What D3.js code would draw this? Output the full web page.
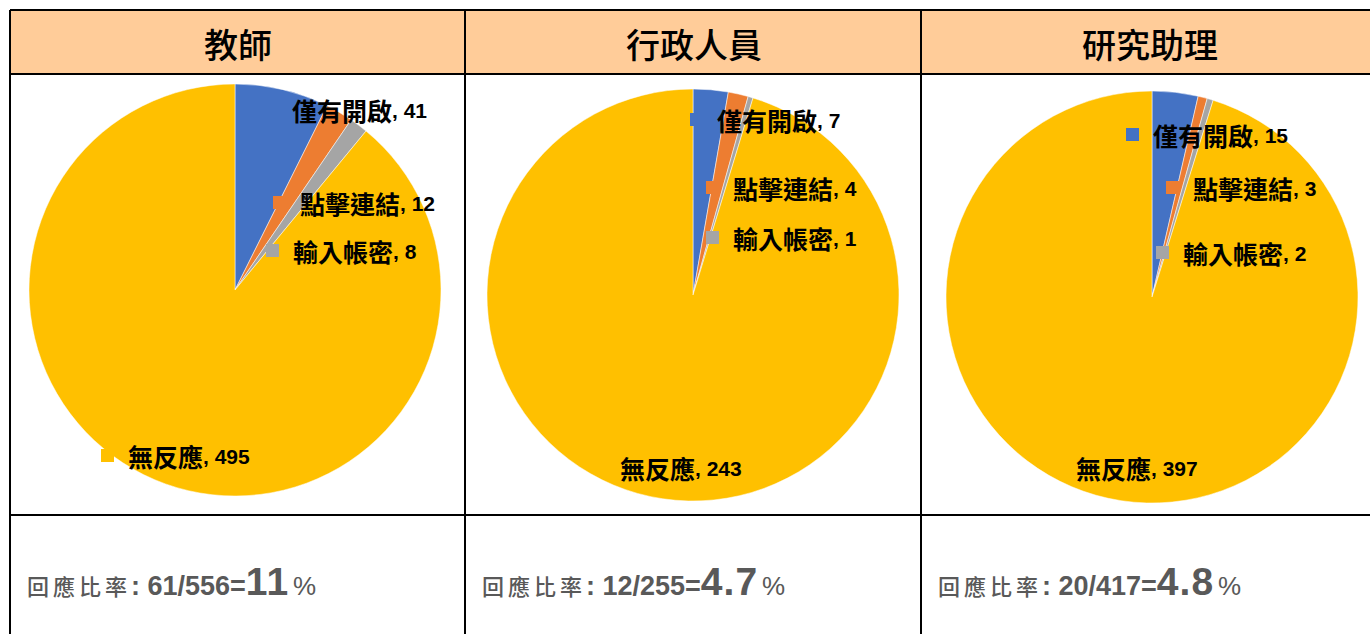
<!DOCTYPE html>
<html>
<head>
<meta charset="utf-8">
<script src="https://cdn.jsdelivr.net/npm/d3@7"></script>
<style>
  body { margin: 0; background: #fff; }
  svg { display: block; }
</style>
</head>
<body>
<svg id="chart" width="1370" height="634"></svg>
<script>
// data
const groups = ["教師", "行政人員", "研究助理"];
const categories = ["僅有開啟", "點擊連結", "輸入帳密", "無反應"];
const teacherValues = [41, 12, 8, 495];
const staffValues = [7, 4, 1, 243];
const assistantValues = [15, 3, 2, 397];
const respondedCounts = [61, 12, 20];
const totalCounts = [556, 255, 417];
const rateLabels = ["11", "4.7", "4.8"];

const seriesByGroup = [teacherValues, staffValues, assistantValues];

const svg = d3.select("#chart");
const width = +svg.attr("width");
const height = +svg.attr("height");

const color = d3.scaleOrdinal()
    .domain(categories)
    .range(["#4472C4", "#ED7D31", "#A5A5A5", "#FFC000"]);

// table columns
const col = d3.scaleBand()
    .domain(groups)
    .range([10, 1378]);

const headerTop = 10, headerBottom = 74, rowLine = 515;

// per panel: pie center offset within the column, label anchors relative to center
const panelLayout = [
    { dx: 225, cy: 290, labels: [[57, -180], [65, -87], [58, -39], [-107, 166]] },
    { dx: 227, cy: 295, labels: [[24, -175], [40, -107], [40, -57], [-73, 173]] },
    { dx: 230, cy: 297, labels: [[1, -162], [41, -109], [31, -44], [-76, 171]] }
];
const radius = 206;

// header background
svg.append("rect")
    .attr("x", col.range()[0])
    .attr("y", headerTop)
    .attr("width", col.range()[1] - col.range()[0])
    .attr("height", headerBottom - headerTop)
    .attr("fill", "#FFCC99");

const pie = d3.pie().sort(null).value(d => d);
const arc = d3.arc().innerRadius(0).outerRadius(radius);

groups.forEach((grp, gi) => {
    const x0 = col(grp);
    const lay = panelLayout[gi];
    const cx = x0 + lay.dx, cy = lay.cy;
    const values = seriesByGroup[gi];

    // header title
    svg.append("text")
        .attr("x", x0 + col.bandwidth() / 2)
        .attr("y", 43)
        .attr("text-anchor", "middle")
        .attr("dominant-baseline", "central")
        .attr("font-family", "Noto Sans CJK TC")
        .attr("font-weight", 500)
        .attr("font-size", 34)
        .attr("fill", "#000")
        .text(grp);

    const g = svg.append("g").attr("transform", `translate(${cx},${cy})`);

    g.selectAll("path.slice")
        .data(pie(values))
        .enter().append("path")
        .attr("class", "slice")
        .attr("d", arc)
        .attr("fill", (d, i) => color(categories[i]))
        .attr("stroke", "#fff")
        .attr("stroke-width", 0.5);

    // data labels with legend keys
    const lbl = g.selectAll("g.lbl")
        .data(values)
        .enter().append("g")
        .attr("class", "lbl")
        .attr("transform", (d, i) => `translate(${lay.labels[i][0]},${lay.labels[i][1]})`);

    lbl.append("rect")
        .attr("x", -27)
        .attr("y", -7)
        .attr("width", 13)
        .attr("height", 13)
        .attr("fill", (d, i) => color(categories[i]));

    const t = lbl.append("text")
        .attr("x", 0)
        .attr("y", 0)
        .attr("dominant-baseline", "central")
        .attr("font-family", "Noto Sans CJK TC")
        .attr("font-weight", 700)
        .attr("fill", "#000");
    t.append("tspan")
        .attr("font-size", 25)
        .text((d, i) => categories[i]);
    t.append("tspan")
        .attr("font-size", 21)
        .attr("font-family", "Liberation Sans")
        .text(d => ", " + d);

    // response rate
    const rate = svg.append("text")
        .attr("x", x0 + (gi === 0 ? 17 : 16))
        .attr("y", 595)
        .attr("fill", "#595959");
    rate.append("tspan")
        .attr("font-family", "Noto Sans CJK TC")
        .attr("font-weight", 500)
        .attr("font-size", 22)
        .attr("letter-spacing", 4)
        .text("回應比率");
    rate.append("tspan")
        .attr("font-family", "Liberation Sans")
        .attr("font-weight", 700)
        .attr("font-size", 27)
        .text(`: ${respondedCounts[gi]}/${totalCounts[gi]}=`);
    rate.append("tspan")
        .attr("font-family", "Liberation Sans")
        .attr("font-weight", 700)
        .attr("font-size", 39)
        .attr("letter-spacing", 1)
        .text(rateLabels[gi]);
    rate.append("tspan")
        .attr("font-family", "Liberation Sans")
        .attr("font-size", 26)
        .attr("dx", 4)
        .text("%");
});

// table grid lines
const gridColor = "#000";
const lines = [
    [10, headerTop, 1378, headerTop],
    [10, headerBottom, 1378, headerBottom],
    [10, rowLine, 1378, rowLine],
    [10, headerTop, 10, height + 2]
];
col.domain().slice(1).forEach(grp => lines.push([col(grp) - 1, headerTop, col(grp) - 1, height + 2]));

svg.selectAll("line.grid")
    .data(lines)
    .enter().append("line")
    .attr("class", "grid")
    .attr("x1", d => d[0]).attr("y1", d => d[1])
    .attr("x2", d => d[2]).attr("y2", d => d[3])
    .attr("stroke", gridColor)
    .attr("stroke-width", 2);
</script>
</body>
</html>
